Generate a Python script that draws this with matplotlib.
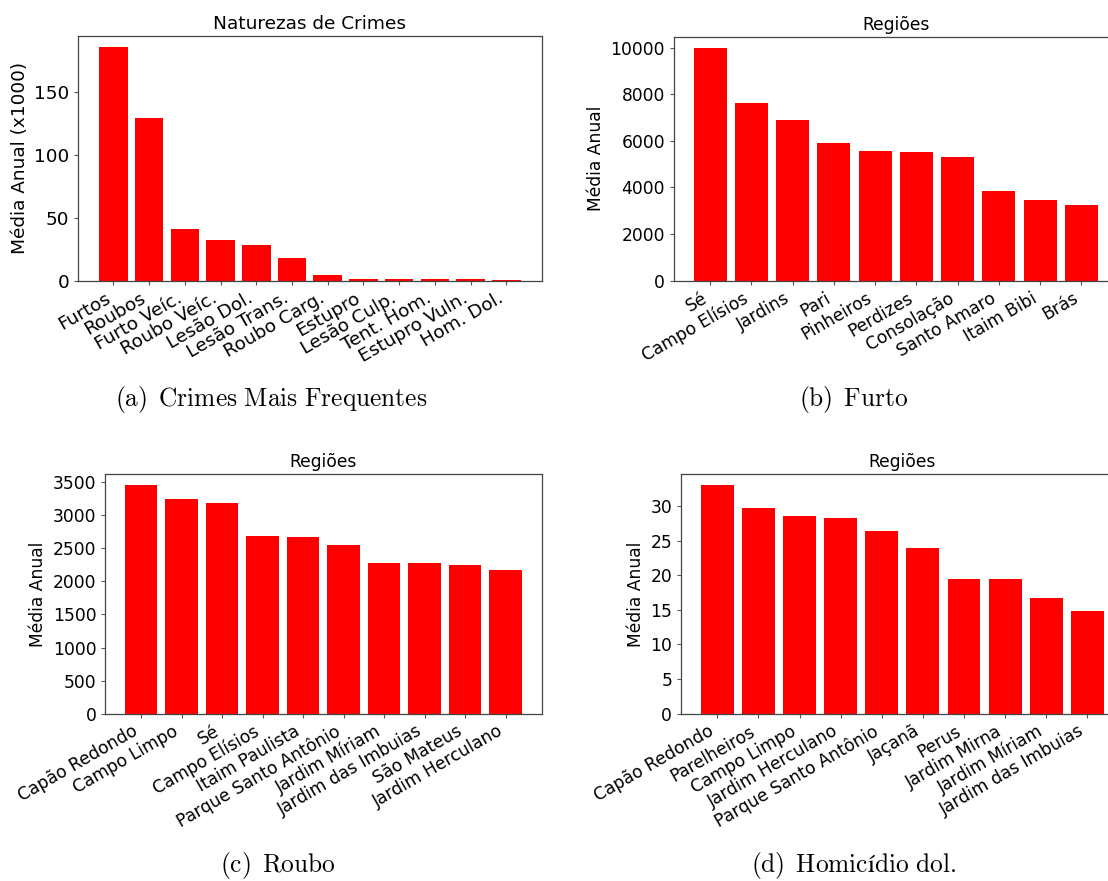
import matplotlib
matplotlib.use("Agg")
import matplotlib.pyplot as plt
from matplotlib.ticker import MultipleLocator

# Crimes mais frequentes (média anual, em milhares)
crime_types = ["Furtos", "Roubos", "Furto Veíc.", "Roubo Veíc.", "Lesão Dol.",
               "Lesão Trans.", "Roubo Carg.", "Estupro", "Lesão Culp.",
               "Tent. Hom.", "Estupro Vuln.", "Hom. Dol."]
crime_means = [185.3, 128.9, 41.0, 32.4, 28.5, 18.1, 4.3, 1.3, 1.2, 1.2, 1.2, 0.6]

# Furto por região
furto_regions = ["Sé", "Campo Elísios", "Jardins", "Pari", "Pinheiros",
                 "Perdizes", "Consolação", "Santo Amaro", "Itaim Bibi", "Brás"]
furto_means = [9970, 7610, 6895, 5895, 5550, 5508, 5308, 3834, 3448, 3233]

# Roubo por região
roubo_regions = ["Capão Redondo", "Campo Limpo", "Sé", "Campo Elísios",
                 "Itaim Paulista", "Parque Santo Antônio", "Jardim Míriam",
                 "Jardim das Imbuias", "São Mateus", "Jardim Herculano"]
roubo_means = [3450, 3249, 3179, 2692, 2676, 2556, 2285, 2270, 2240, 2179]

# Homicídio doloso por região
homic_regions = ["Capão Redondo", "Parelheiros", "Campo Limpo",
                 "Jardim Herculano", "Parque Santo Antônio", "Jaçanã", "Perus",
                 "Jardim Mirna", "Jardim Míriam", "Jardim das Imbuias"]
homic_means = [32.97, 29.65, 28.5, 28.2, 26.34, 23.9, 19.43, 19.43, 16.7, 14.83]

W, H = 1108, 881
fig = plt.figure(figsize=(W / 100, H / 100), dpi=100)


def px_axes(left, top, right, bottom):
    return fig.add_axes([left / W, 1 - bottom / H, (right - left) / W, (bottom - top) / H])


def bar_panel(ax, labels, values, title, ylabel, fs):
    x = range(len(labels))
    ax.bar(x, values, color="#ff0000", width=0.8)
    ax.set_xticks(list(x))
    ax.set_xticklabels(labels, rotation=30, ha="right", fontsize=fs)
    ax.tick_params(axis="y", labelsize=fs)
    ax.tick_params(length=2.6, width=0.8, color="#555555")
    ax.set_title(title, fontsize=fs, pad=5)
    ax.set_ylabel(ylabel, fontsize=fs)
    for s in ax.spines.values():
        s.set_color("#444444")
        s.set_linewidth(0.9)


ax_a = px_axes(78, 35.7, 541.7, 280.7)
bar_panel(ax_a, crime_types, crime_means, "Naturezas de Crimes",
          "Média Anual (x1000)", 13.3)

# the right-hand panels run past the page edge
ax_b = px_axes(673.5, 36.7, 1118, 280.7)
bar_panel(ax_b, furto_regions, furto_means, "Regiões", "Média Anual", 12.3)
ax_b.spines["right"].set_visible(False)

ax_c = px_axes(105, 474, 541.7, 713.7)
bar_panel(ax_c, roubo_regions, roubo_means, "Regiões", "Média Anual", 12.3)
ax_c.yaxis.set_major_locator(MultipleLocator(500))

ax_d = px_axes(680.7, 474, 1124, 713.7)
bar_panel(ax_d, homic_regions, homic_means, "Regiões", "Média Anual", 12.3)
ax_d.spines["right"].set_visible(False)

captions = [
    (271.5, 406, r"$\mathrm{(a)\ \,Crimes\ Mais\ Frequentes}$"),
    (853.5, 406, r"$\mathrm{(b)\ \,Furto}$"),
    (277.5, 872, r"$\mathrm{(c)\ \,Roubo}$"),
    (854.0, 872, r"$\mathrm{(d)\ \,Homicídio\ dol.}$"),
]
for cx, cy, txt in captions:
    fig.text(cx / W, 1 - cy / H, txt, ha="center", va="baseline",
             fontsize=18.3, math_fontfamily="cm")

fig.savefig("out.png", dpi=100)
